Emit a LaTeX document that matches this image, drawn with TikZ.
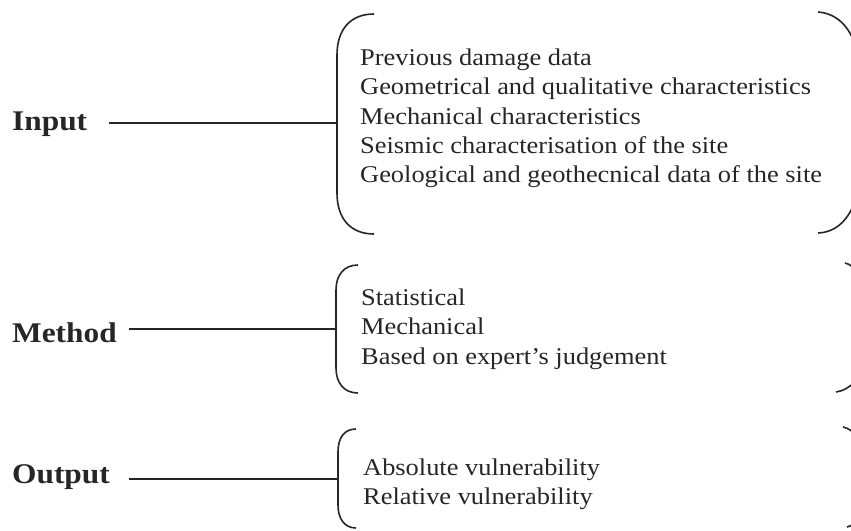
\documentclass[tikz,border=0pt]{standalone}
\usepackage{fontspec}
\setmainfont[FakeStretch=1.1]{Liberation Serif}
\usetikzlibrary{positioning}

\begin{document}
\begin{tikzpicture}[x=1pt,y=-1pt,
  lbl/.style={anchor=base west,inner sep=0pt,font=\fontsize{28.5}{34}\selectfont\bfseries,text=black!85},
  items/.style={anchor=north west,inner sep=0pt,align=left,font=\fontsize{24}{29.3}\selectfont,text=black!85},
  brk/.style={draw=black!85,line width=1.6pt},
  link/.style={draw=black!85,line width=1.4pt}]
\useasboundingbox (0,0) rectangle (851,530);
\clip (0,0) rectangle (851,530);
% labels on the left
\node[lbl] (input) at (12,130) {Input};
\node[lbl] (method) at (12,342) {Method};
\node[lbl] (output) at (12,483) {Output};
% tips of the left brackets
\coordinate (in_tip) at (337,123);
\coordinate (me_tip) at (336,329);
\coordinate (ou_tip) at (338,479);
% lists
\node[items] (in_list) at (360,48.6) {Previous damage data\\Geometrical and qualitative characteristics\\Mechanical characteristics\\Seismic characterisation of the site\\Geological and geothecnical data of the site};
\node[items] (me_list) at (361,288.6) {Statistical\\Mechanical\\Based on expert's judgement};
\node[items] (ou_list) at (363,458.6) {Absolute vulnerability\\Relative vulnerability};
% brackets
\draw[brk] (374,14) .. controls (350,14) and (337,30) .. (337,55) -- (in_tip) -- (337,193) .. controls (337,218) and (350,234) .. (374,234);
\draw[brk] (818,12) .. controls (845,14) and (858,40) .. (860,70) -- (860,175) .. controls (858,205) and (845,232) .. (818,233);
\draw[brk] (358,265) .. controls (344,265) and (336,275) .. (336,290) -- (me_tip) -- (336,368) .. controls (336,383) and (344,393) .. (358,393);
\draw[brk] (845,263) .. controls (855,265) and (862,278) .. (863,295) -- (863,360) .. controls (862,378) and (850,390) .. (836,392);
\draw[brk] (356,429) .. controls (344,429) and (338,438) .. (338,452) -- (ou_tip) -- (338,505) .. controls (338,518) and (344,528) .. (356,528);
\draw[brk] (843,427) .. controls (853,429) and (862,440) .. (863,455) -- (863,505) .. controls (862,518) and (855,525) .. (847,527);
% connectors
\draw[link,shorten <=22pt] (input.east |- in_tip) -- (in_tip);
\draw[link,shorten <=12pt] (method.east |- me_tip) -- (me_tip);
\draw[link,shorten <=19pt] (output.east |- ou_tip) -- (ou_tip);
\end{tikzpicture}
\end{document}
